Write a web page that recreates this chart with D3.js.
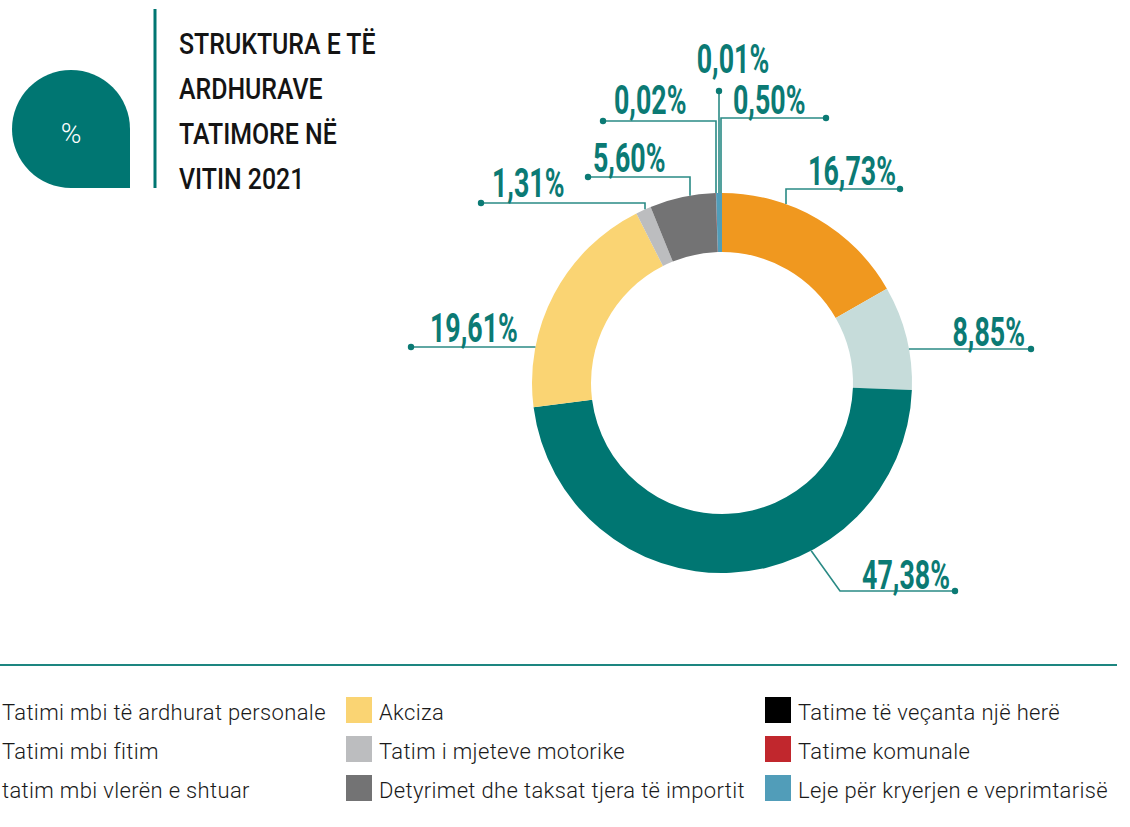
<!DOCTYPE html>
<html>
<head>
<meta charset="utf-8">
<script src="https://cdn.jsdelivr.net/npm/d3@7"></script>
<style>
  html, body { margin: 0; padding: 0; background: #ffffff; }
  svg { display: block; }
</style>
</head>
<body>
<svg id="chart" width="1130" height="827"></svg>
<script>
// Tax revenue structure, 2021 (shares in %)
const categories = [
  "Tatimi mbi të ardhurat personale",
  "Tatimi mbi fitim",
  "tatim mbi vlerën e shtuar",
  "Akciza",
  "Tatim i mjeteve motorike",
  "Detyrimet dhe taksat tjera të importit",
  "Tatime të veçanta një herë",
  "Tatime komunale",
  "Leje për kryerjen e veprimtarisë"
];
const shares = [16.73, 8.85, 47.38, 19.61, 1.31, 5.60, 0.01, 0.02, 0.50];
const colors = ["#f0981f", "#c6dcda", "#007672", "#fad473", "#bcbdbf", "#737374", "#000000", "#c1272d", "#519db9"];
const titleLines = ["STRUKTURA E TË", "ARDHURAVE", "TATIMORE NË", "VITIN 2021"];

const teal = "#007672";
const labelTeal = "#0b7a74";
const displayFont = "Roboto, 'DejaVu Sans Condensed', sans-serif";

const svg = d3.select("#chart");

// text squeezed horizontally to imitate a condensed display face
function narrowText(parent, x, y, sx, txt, anchor) {
  return parent.append("g")
    .attr("transform", `translate(${x},${y}) scale(${sx},1)`)
    .append("text")
    .attr("x", 0).attr("y", 0)
    .attr("text-anchor", anchor || "start")
    .text(txt);
}

// ---- header: badge, divider, title ----
const badge = svg.append("g");
const bx = 71, by = 129, br = 59;
badge.append("path")
  .attr("d", `M${bx - br},${by} A${br},${br} 0 0 1 ${bx + br},${by} L${bx + br},${by + br} L${bx},${by + br} A${br},${br} 0 0 1 ${bx - br},${by} Z`)
  .attr("fill", teal);
badge.append("text")
  .attr("x", bx).attr("y", by + 14)
  .attr("text-anchor", "middle")
  .attr("fill", "#ffffff")
  .style("font-family", "Roboto, sans-serif")
  .style("font-weight", 300)
  .style("font-size", "28px")
  .text("%");

svg.append("rect")
  .attr("x", 153.5).attr("y", 9).attr("width", 3).attr("height", 179)
  .attr("fill", teal);

const title = svg.append("g")
  .attr("fill", "#141414")
  .style("font-family", displayFont)
  .style("font-weight", 500)
  .style("font-size", "30px");
titleLines.forEach((t, i) => {
  narrowText(title, 179, 54 + i * 45, 0.83, t);
});

// ---- donut ----
const cx = 722, cy = 383, R = 190, r = 131;
const g = svg.append("g").attr("transform", `translate(${cx},${cy})`);

const pie = d3.pie().value(d => d).sort(null).startAngle(0).endAngle(2 * Math.PI);
const arcs = pie(shares);
const arc = d3.arc().innerRadius(r).outerRadius(R);

g.selectAll("path.slice")
  .data(arcs)
  .join("path")
  .attr("class", "slice")
  .attr("d", arc)
  .attr("fill", (d, i) => colors[i]);

// ---- value labels with leader lines ----
// dot: start of leader; elbow: x where the line turns toward the ring
// mode "v": vertical drop at elbow x; "h": horizontal into the ring; "a": diagonal to ring at angle
const fmt = v => d3.format(".2f")(v).replace(".", ",") + "%";
const layout = [
  { dot: [178, -194], elbow: 64, mode: "v", tx: 174, ty: -198, anchor: "end" },
  { dot: [309, -34], mode: "h", side: 1, tx: 303, ty: -37, anchor: "end" },
  { dot: [233, 208], elbow: 118, mode: "a", angle: 152, tx: 228, ty: 206, anchor: "end" },
  { dot: [-311, -36], mode: "h", side: -1, tx: -292, ty: -41, anchor: "start" },
  { dot: [-241, -180], elbow: -77, mode: "v", tx: -230, ty: -186, anchor: "start" },
  { dot: [-134, -206], elbow: -32, mode: "v", tx: -129, ty: -211, anchor: "start" },
  { dot: [-3, -292], elbow: -3, mode: "v", tx: 11, ty: -310, anchor: "middle" },
  { dot: [-119, -262], elbow: -6, mode: "v", tx: -108, ty: -269, anchor: "start" },
  { dot: [104, -265], elbow: -1, mode: "v", tx: 11, ty: -269, anchor: "start" }
];

function leaderPoints(L) {
  const [dx, dy] = L.dot;
  if (L.mode === "h") {
    const ex = L.side * Math.sqrt(R * R - dy * dy);
    return [[dx, dy], [ex, dy]];
  }
  if (L.mode === "a") {
    const a = L.angle * Math.PI / 180;
    return [[dx, dy], [L.elbow, dy], [R * Math.sin(a), -R * Math.cos(a)]];
  }
  const ey = -Math.sqrt(R * R - L.elbow * L.elbow);
  return [[dx, dy], [L.elbow, dy], [L.elbow, ey]];
}

const labels = g.append("g");
const labelText = g.append("g")
  .attr("fill", labelTeal)
  .style("font-family", displayFont)
  .style("font-weight", 700)
  .style("font-size", "40px");
arcs.forEach((d, i) => {
  const L = layout[i];
  labels.append("path")
    .attr("d", d3.line()(leaderPoints(L)))
    .attr("fill", "none")
    .attr("stroke", "#2a8a85")
    .attr("stroke-width", 1.6);
  labels.append("circle")
    .attr("cx", L.dot[0]).attr("cy", L.dot[1]).attr("r", 3.2)
    .attr("fill", "#0b7a74");
  narrowText(labelText, L.tx, L.ty, 0.67, fmt(d.data), L.anchor);
});

// ---- separator ----
svg.append("rect")
  .attr("x", 0).attr("y", 664).attr("width", 1117).attr("height", 2)
  .attr("fill", "#1d8680");

// ---- legend: three columns of three ----
const colX = [-31, 346, 765];
const rowY = [697, 736, 775];
const legend = svg.append("g");
categories.forEach((c, i) => {
  const col = Math.floor(i / 3), row = i % 3;
  const x = colX[col], y = rowY[row];
  legend.append("rect")
    .attr("x", x).attr("y", y).attr("width", 26).attr("height", 26)
    .attr("fill", colors[i]);
  legend.append("text")
    .attr("x", x + 33).attr("y", y + 23)
    .attr("fill", "#1a1a1a")
    .style("font-family", "Roboto, sans-serif")
    .style("font-weight", 300)
    .style("font-size", "22px")
    .style("letter-spacing", "0.35px")
    .text(c);
});
</script>
</body>
</html>
